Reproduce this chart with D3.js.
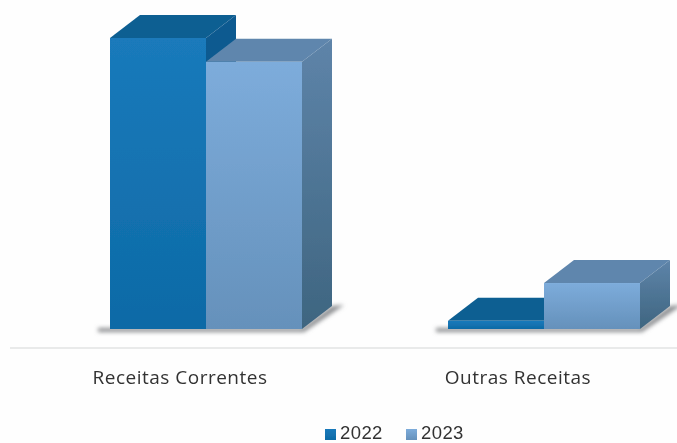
<!DOCTYPE html>
<html><head><meta charset="utf-8">
<script src="https://cdnjs.cloudflare.com/ajax/libs/d3/7.8.5/d3.min.js"></script>
<style>html,body{margin:0;padding:0;background:#fefefe}svg{display:block}</style>
</head><body><svg id="c" width="677" height="443"></svg>
<script>
const categories = ["Receitas Correntes", "Outras Receitas"];
const seriesNames = ["2022", "2023"];
const values2022 = [100, 2.8];
const values2023 = [91.8, 15.8];

const palette = {
  "2022": {f0:"#1a7abb", f1:"#0d6aa6", top:"#0c5e92", s0:"#0a5a90", s1:"#0a5a90"},
  "2023": {f0:"#7dacdb", f1:"#6591bb", top:"#5f86ad", s0:"#5e84a9", s1:"#3e6580"}
};
const W=677,H=443, base=329, dx=30, dy=-23;
const svg=d3.select("#c");
const defs=svg.append("defs");
const soft=defs.append("filter").attr("id","soft").attr("x","-5%").attr("y","-5%").attr("width","110%").attr("height","110%");
soft.append("feGaussianBlur").attr("stdDeviation",0.55);
const shadow=defs.append("filter").attr("id","shadow").attr("x","-20%").attr("y","-100%").attr("width","140%").attr("height","300%");
shadow.append("feGaussianBlur").attr("stdDeviation",2.2);
const txt=defs.append("filter").attr("id","txt").attr("x","-5%").attr("y","-20%").attr("width","110%").attr("height","140%");
txt.append("feGaussianBlur").attr("stdDeviation",0.4);
seriesNames.forEach(s=>{
  const p=palette[s];
  [["f",p.f0,p.f1],["s",p.s0,p.s1]].forEach(([k,a,b])=>{
    const g=defs.append("linearGradient").attr("id",k+s).attr("x1",0).attr("y1",0).attr("x2",0).attr("y2",1);
    g.append("stop").attr("offset","0%").attr("stop-color",a);
    g.append("stop").attr("offset","100%").attr("stop-color",b);
  });
});

const x0=d3.scaleBand().domain(categories).range([37,713]).paddingInner(146/338).paddingOuter(73/338);
const x1=d3.scaleBand().domain(seriesNames).range([0,x0.bandwidth()]);
const y=d3.scaleLinear().domain([0,100]).range([base,38]);
const data={ "2022":values2022, "2023":values2023 };

const xAxisScale=x0.copy().range([11,687]);
const axisG=svg.append("g").attr("transform","translate(0,348)")
  .call(d3.axisBottom(xAxisScale).tickSize(0).tickPadding(23));
axisG.select(".domain").remove();
axisG.selectAll("text").attr("font-family","'Open Sans',sans-serif").attr("font-size",19)
  .attr("letter-spacing",0.5).attr("fill","#333").attr("filter","url(#txt)");
svg.append("line").attr("x1",10).attr("x2",W).attr("y1",348).attr("y2",348)
  .attr("stroke","#d4d6d6").attr("stroke-width",1.2);

const plot=svg.append("g").attr("filter","url(#soft)");
categories.forEach(c=>{
  const xl=x0(c), xr=xl+x0.bandwidth();
  svg.insert("path","g").attr("d",d3.line()([[xl-12,base-1],[xr,base-1],[xr+dx,base+dy],[xr+dx+12,base+dy-1],[xr+2,base+3],[xl-12,base+3]]))
    .attr("fill","#8a8c8f").attr("filter","url(#shadow)");
});
seriesNames.forEach(s=>{
  categories.forEach((c,i)=>{
    const v=data[s][i], xl=x0(c)+x1(s), w=x1.bandwidth(), t=y(v), xr=xl+w;
    const g=plot.append("g");
    g.append("path").attr("d",d3.line()([[xl,t],[xl+dx,t+dy],[xr+dx,t+dy],[xr,t]])).attr("fill",palette[s].top);
    g.append("path").attr("d",d3.line()([[xr,t],[xr+dx,t+dy],[xr+dx,base+dy],[xr,base]])).attr("fill",`url(#s${s})`);
    g.append("rect").attr("x",xl).attr("y",t).attr("width",w).attr("height",base-t).attr("fill",`url(#f${s})`);
  });
});

const lx=d3.scaleOrdinal().domain(seriesNames).range([325,406]);
const leg=svg.append("g").selectAll("g").data(seriesNames).join("g").attr("transform",d=>`translate(${lx(d)},429)`);
leg.append("rect").attr("width",11).attr("height",11).attr("fill",d=>`url(#f${d})`).attr("filter","url(#txt)");
leg.append("text").attr("x",15).attr("y",10).text(d=>d).attr("font-family","'Liberation Sans',sans-serif")
  .attr("font-size",18.5).attr("letter-spacing",0.4).attr("fill","#333").attr("filter","url(#txt)");
</script></body></html>
